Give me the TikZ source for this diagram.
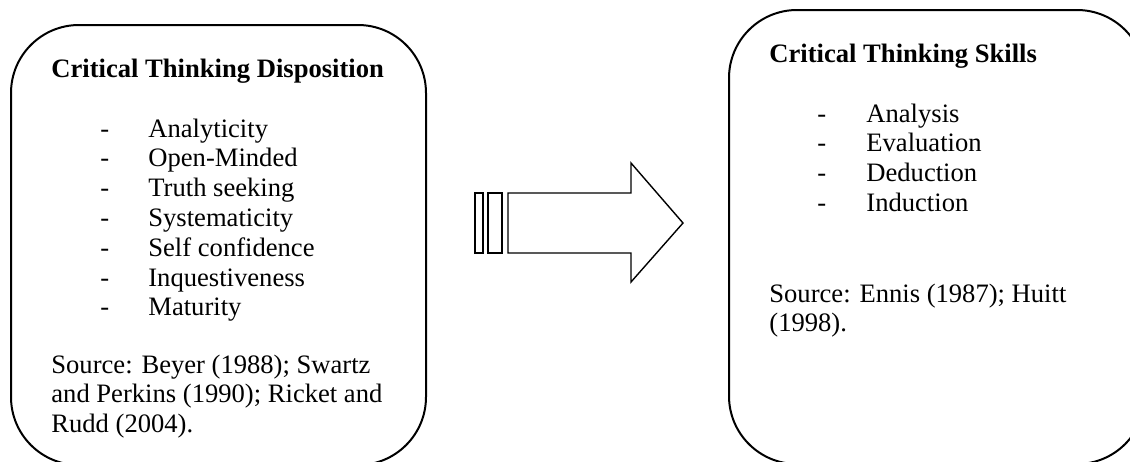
\documentclass[tikz,border=0pt]{standalone}
\usepackage{fontspec}
\setmainfont{Liberation Serif}
\usepackage{tikz}

\tikzset{
  panel/.style={draw, line width=1pt, rounded corners=34pt, inner sep=0pt, outer sep=0pt},
  txt/.style={anchor=base west, inner sep=0pt, font=\fontsize{13.3}{14.9}\selectfont},
  heading/.style={txt, font=\fontsize{13.3}{14.9}\selectfont\bfseries},
  bigarrow/.style={draw, line width=0.7pt, line join=miter}
}

\begin{document}
\begin{tikzpicture}[x=0.5pt, y=-0.5pt]
  \useasboundingbox (0,0) rectangle (1130,461);

  % Left panel: dispositions
  \node[panel, minimum width=207.5pt, minimum height=220pt] (disp) at (218.5,245) {};
  \node[heading] (disptitle) at (51,77) {Critical Thinking Disposition};
  \node[txt] (displist) at (100,137) {%
    \begin{tabular}[t]{@{}p{24pt}@{}l@{}}
      - & Analyticity\\
      - & Open-Minded\\
      - & Truth seeking\\
      - & Systematicity\\
      - & Self confidence\\
      - & Inquestiveness\\
      - & Maturity
    \end{tabular}};
  \node[txt] (dispsrc) at (51,373) {%
    \begin{tabular}[t]{@{}l@{}}
      Source: Beyer (1988); Swartz\\
      and Perkins (1990); Ricket and\\
      Rudd (2004).
    \end{tabular}};

  % Block arrow with stripes
  \draw[bigarrow] (475,193) rectangle (483,253);
  \draw[bigarrow] (488,193) rectangle (502,253);
  \draw[bigarrow] (508,193) -- (631,193) -- (631,163) -- (683,223)
    -- (631,282) -- (631,253) -- (508,253) -- cycle;

  % Right panel: skills
  \node[panel, minimum width=208pt, minimum height=227pt] (skill) at (937,237) {};
  \node[heading] (skilltitle) at (769,62) {Critical Thinking Skills};
  \node[txt] (skilllist) at (817,122) {%
    \begin{tabular}[t]{@{}p{24.5pt}@{}l@{}}
      - & Analysis\\
      - & Evaluation\\
      - & Deduction\\
      - & Induction
    \end{tabular}};
  \node[txt] (skillsrc) at (769,302) {%
    \begin{tabular}[t]{@{}l@{}}
      Source: Ennis (1987); Huitt\\
      (1998).
    \end{tabular}};
\end{tikzpicture}
\end{document}
